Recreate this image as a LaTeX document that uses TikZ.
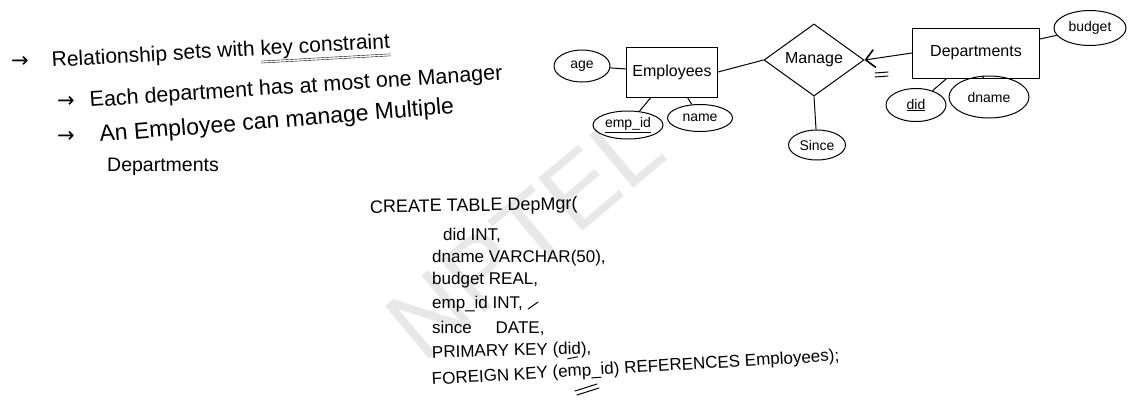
\documentclass[tikz,border=0pt]{standalone}
\usepackage{fontspec}
\setmainfont{Liberation Sans}
\newfontfamily\djv{DejaVu Sans}
\usetikzlibrary{shapes.geometric,arrows.meta,calc}
\begin{document}
\begin{tikzpicture}[x=1pt,y=-1pt,
  hand/.style={anchor=base west, inner sep=0pt},
  harrow/.style={font=\djv\fontsize{21}{24}\selectfont, anchor=west, inner sep=0pt},
  sql/.style={font=\fontsize{17}{19}\selectfont, anchor=base west, inner sep=0pt},
  ent/.style={draw, rectangle, line width=1pt, inner sep=0pt, font=\fontsize{16}{18}\selectfont},
  attr/.style={draw, ellipse, line width=1pt, inner sep=0pt, font=\fontsize{14}{16}\selectfont},
  rel/.style={draw, diamond, line width=1pt, inner sep=0pt, font=\fontsize{16}{18}\selectfont},
  conn/.style={line width=1pt},
  penstroke/.style={line width=1pt, line cap=round},
  wmark/.style={font=\fontsize{100}{100}\selectfont, text=black!9, inner sep=0pt}
]
\useasboundingbox[fill=white] (0,0) rectangle (1131,402);

% watermark
\node[wmark, rotate=40] (wm) at (525,235) {NPTEL};

% notes on the left
\node[harrow] (a1) at (11,62) {→};
\node[hand, rotate=3.2, font=\fontsize{21}{24}\selectfont] (t1) at (52,67) {Relationship sets with $\underline{\underline{\mbox{key constraint}}}$};
\node[harrow] (a2) at (57,102) {→};
\node[hand, rotate=3.8, font=\fontsize{21.5}{24}\selectfont] (t2) at (90,107) {Each department has at most one Manager};
\node[harrow] (a3) at (57,137) {→};
\node[hand, rotate=4.6, font=\fontsize{23}{26}\selectfont] (t3) at (100,142) {An Employee can manage Multiple};
\node[hand, font=\fontsize{19.5}{22}\selectfont] (t4) at (107,171) {Departments};

% ER diagram
\node[ent, minimum width=91pt, minimum height=50pt] (emp) at (672,72) {Employees};
\node[rel, minimum width=100pt, minimum height=72pt] (man) at (814,60) {Manage};
\node[ent, minimum width=127pt, minimum height=50pt] (dep) at (976,53) {Departments};
\node[attr, minimum width=56pt, minimum height=32pt] (age) at (582,66) {age};
\node[attr, minimum width=70pt, minimum height=28pt] (eid) at (628,125) {\underline{emp\_id}};
\node[attr, minimum width=65pt, minimum height=27pt] (nam) at (700,118) {name};
\node[attr, minimum width=57pt, minimum height=30pt] (since) at (817,145) {Since};
\node[attr, minimum width=72pt, minimum height=35pt] (bud) at (1090,28) {budget};
\node[attr, minimum width=60pt, minimum height=33pt] (did) at (916,105) {\underline{did}};
\node[attr, minimum width=80pt, minimum height=42pt] (dnm) at (989,97) {dname};

\draw[conn] (age) -- (emp);
\draw[conn] (emp.east) -- (man.west);
\draw[conn, -{Straight Barb[length=9pt,width=18pt,line width=1.6pt]}] (dep.west) -- (man.east);
\draw[conn] (since) -- (man.south);
\draw[conn] (eid) -- (emp);
\draw[conn] (nam) -- (emp);
\draw[conn] (dep) -- (bud);
\draw[conn] (did) -- (dep);
\draw[conn] (dnm) -- (dep);
\draw[penstroke] (875,73) -- (888,72);
\draw[penstroke] (875,77) -- (888,76);

% SQL
\node[sql, rotate=1, font=\fontsize{18}{20}\selectfont] (s1) at (370,213) {CREATE TABLE DepMgr(};
\node[sql] (s2) at (443,240) {did INT,};
\node[sql] (s3) at (432,262) {dname VARCHAR(50),};
\node[sql] (s4) at (432,284) {budget REAL,};
\node[sql] (s5) at (432,308) {emp\_id INT,};
\node[sql] (s6) at (432,333) {since\hspace{1.4em}DATE,};
\node[sql, rotate=1.5] (s7) at (432,358) {PRIMARY KEY (did),};
\node[sql, rotate=3.4] (s8) at (432,385) {FOREIGN KEY (emp\_id) REFERENCES Employees);};
\draw[penstroke] ($(s5.base east)+(5,1)$) -- ($(s5.base east)+(15,-6)$);
\draw[penstroke] ($(s7.base east)+(-24,5)$) -- ($(s7.base east)+(-14,3)$);
\draw[penstroke] (575,391) -- (597,384);
\draw[penstroke] (577,395) -- (599,388);
\end{tikzpicture}
\end{document}
